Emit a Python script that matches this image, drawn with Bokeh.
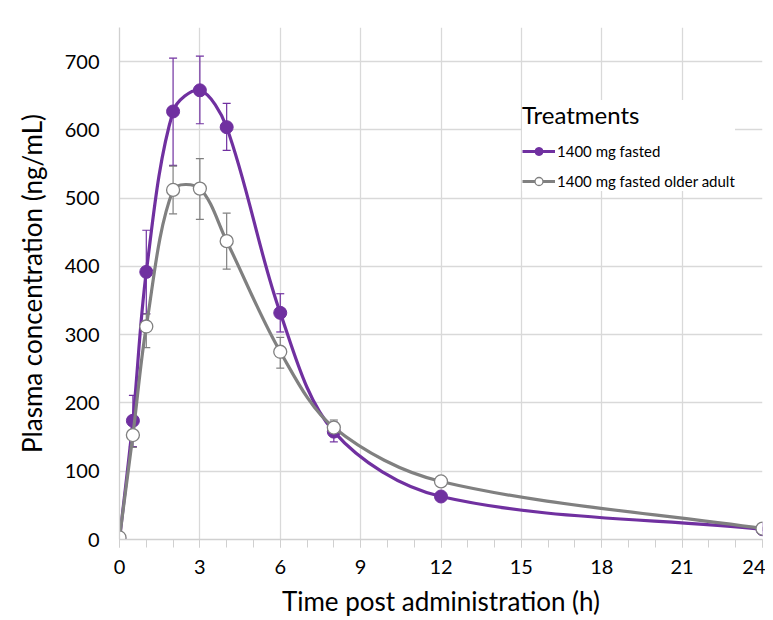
import numpy as np
from bokeh.plotting import figure
from bokeh.models import (ColumnDataSource, Whisker, Legend, LegendItem,
                          FixedTicker, Range1d, TeeHead)
from bokeh.embed import file_html
from bokeh.resources import INLINE

# ---- data ----
time_h = [0, 0.5, 1, 2, 3, 4, 6, 8, 12, 24]
fasted_mean = [0, 174, 392, 627, 658, 604, 332, 158, 63, 15]
fasted_lower = [0, 136, 331, 548, 609, 570, 304, 143, 58, 13]
fasted_upper = [0, 211, 453, 705, 708, 639, 360, 172, 68, 17]
older_mean = [3, 153, 312, 512, 514, 437, 275, 164, 85, 16]
older_lower = [3, 135, 281, 477, 469, 396, 251, 153, 79, 14]
older_upper = [3, 171, 330, 547, 558, 478, 296, 175, 91, 18]
x_ticks = [0, 3, 6, 9, 12, 15, 18, 21, 24]
y_ticks = [0, 100, 200, 300, 400, 500, 600, 700]

PURPLE = "#7030A0"
GRAY = "#808080"
FONT = "Lato"

W, H = 765, 619
BL, BR, BT, BB = 119, 3, 27, 79
X0, X1, Y0, Y1 = 0, 24, 0, 750
SX = (W - BL - BR) / (X1 - X0)   # screen px per x unit
SY = (H - BT - BB) / (Y1 - Y0)   # screen px per y unit


def smooth_segments(x, y):
    # smoothed line: cubic Bezier per segment, tangents from neighbours,
    # scaled by chord length in screen space (Excel-like look)
    xs = np.asarray(x, float) * SX
    ys = np.asarray(y, float) * SY
    n = len(xs)
    pts = np.stack([xs, ys], axis=1)
    d = np.hypot(np.diff(xs), np.diff(ys))
    tang = np.zeros_like(pts)
    for i in range(n):
        if i == 0:
            tang[i] = (pts[1] - pts[0]) / d[0]
        elif i == n - 1:
            tang[i] = (pts[-1] - pts[-2]) / d[-1]
        else:
            tang[i] = (pts[i + 1] - pts[i - 1]) / (d[i - 1] + d[i])
    out = dict(x0=[], y0=[], x1=[], y1=[], cx0=[], cy0=[], cx1=[], cy1=[])
    for i in range(n - 1):
        c0 = pts[i] + tang[i] * d[i] / 3
        c1 = pts[i + 1] - tang[i + 1] * d[i] / 3
        out["x0"].append(x[i]); out["y0"].append(y[i])
        out["x1"].append(x[i + 1]); out["y1"].append(y[i + 1])
        out["cx0"].append(c0[0] / SX); out["cy0"].append(c0[1] / SY)
        out["cx1"].append(c1[0] / SX); out["cy1"].append(c1[1] / SY)
    return ColumnDataSource(out)


p = figure(width=W, height=H, output_backend="svg", toolbar_location=None,
           x_range=Range1d(X0, X1), y_range=Range1d(Y0, Y1),
           min_border_left=BL, min_border_right=BR, min_border_top=BT,
           min_border_bottom=BB)
p.outline_line_color = None

p.xgrid.ticker = FixedTicker(ticks=x_ticks)
p.ygrid.ticker = FixedTicker(ticks=y_ticks)
p.xgrid.grid_line_color = "#d9d9d9"
p.ygrid.grid_line_color = "#d9d9d9"
p.xgrid.grid_line_width = 1.3
p.ygrid.grid_line_width = 1.3

p.xaxis.ticker = FixedTicker(ticks=x_ticks, minor_ticks=list(range(0, 25)))
p.yaxis.ticker = FixedTicker(ticks=y_ticks)
for ax in (p.xaxis[0], p.yaxis[0]):
    ax.axis_line_color = "#d0d0d0"
    ax.axis_line_width = 1.3
    ax.major_label_text_font = FONT
    ax.major_label_text_font_size = "20px"
    ax.major_label_text_color = "#000000"
    ax.axis_label_text_font = FONT
    ax.axis_label_text_font_style = "normal"
    ax.axis_label_text_color = "#000000"
    ax.axis_label_text_font_size = "26px"
p.xaxis.major_tick_line_color = "#d0d0d0"
p.xaxis.minor_tick_line_color = "#d0d0d0"
p.xaxis.major_tick_in = 0
p.xaxis.major_tick_out = 8
p.xaxis.minor_tick_in = 0
p.xaxis.minor_tick_out = 8
p.yaxis.major_tick_in = 0
p.yaxis.major_tick_out = 0
p.yaxis.minor_tick_in = 0
p.yaxis.minor_tick_out = 0
p.yaxis.major_tick_line_color = None
p.yaxis.minor_tick_line_color = None
p.xaxis.axis_label = "Time post administration (h)"
p.yaxis.axis_label = "Plasma concentration (ng/mL)"
p.xaxis.major_label_standoff = 12
p.yaxis.major_label_standoff = 20
p.xaxis.axis_label_standoff = 8
p.yaxis.axis_label_standoff = 14

# error bars
src_f = ColumnDataSource(dict(t=time_h, m=fasted_mean, lo=fasted_lower, up=fasted_upper))
src_o = ColumnDataSource(dict(t=time_h, m=older_mean, lo=older_lower, up=older_upper))
for src, col in ((src_f, PURPLE), (src_o, GRAY)):
    w = Whisker(source=src, base="t", lower="lo", upper="up", line_color=col,
                line_width=1.2,
                upper_head=TeeHead(size=8, line_color=col, line_width=1.2),
                lower_head=TeeHead(size=8, line_color=col, line_width=1.2))
    p.add_layout(w)

# curves
cf = p.bezier(x0="x0", y0="y0", x1="x1", y1="y1", cx0="cx0", cy0="cy0",
              cx1="cx1", cy1="cy1", source=smooth_segments(time_h, fasted_mean),
              line_color=PURPLE, line_width=3.2)
sf = p.scatter("t", "m", source=src_f, size=13, fill_color=PURPLE,
               line_color=PURPLE, line_width=1)
co = p.bezier(x0="x0", y0="y0", x1="x1", y1="y1", cx0="cx0", cy0="cy0",
              cx1="cx1", cy1="cy1", source=smooth_segments(time_h, older_mean),
              line_color=GRAY, line_width=3.2)
so = p.scatter("t", "m", source=src_o, size=13, fill_color="white",
               line_color=GRAY, line_width=1.3)

legend = Legend(items=[
    LegendItem(label="1400 mg fasted", renderers=[cf, sf]),
    LegendItem(label="1400 mg fasted older adult", renderers=[co, so]),
], location=(403, 348))
legend.title = "Treatments"
legend.title_text_font = FONT
legend.title_text_font_size = "24px"
legend.title_text_font_style = "normal"
legend.title_text_color = "#000000"
legend.title_standoff = 12
legend.label_text_font = FONT
legend.label_text_font_size = "15px"
legend.label_text_color = "#000000"
legend.label_standoff = 2
legend.glyph_width = 33
legend.glyph_height = 20
legend.label_height = 20
legend.spacing = 10
legend.padding = 6
legend.margin = 0
legend.border_line_color = None
legend.background_fill_color = "white"
legend.background_fill_alpha = 1
p.add_layout(legend)

open("out.html", "w").write(file_html(p, INLINE))
